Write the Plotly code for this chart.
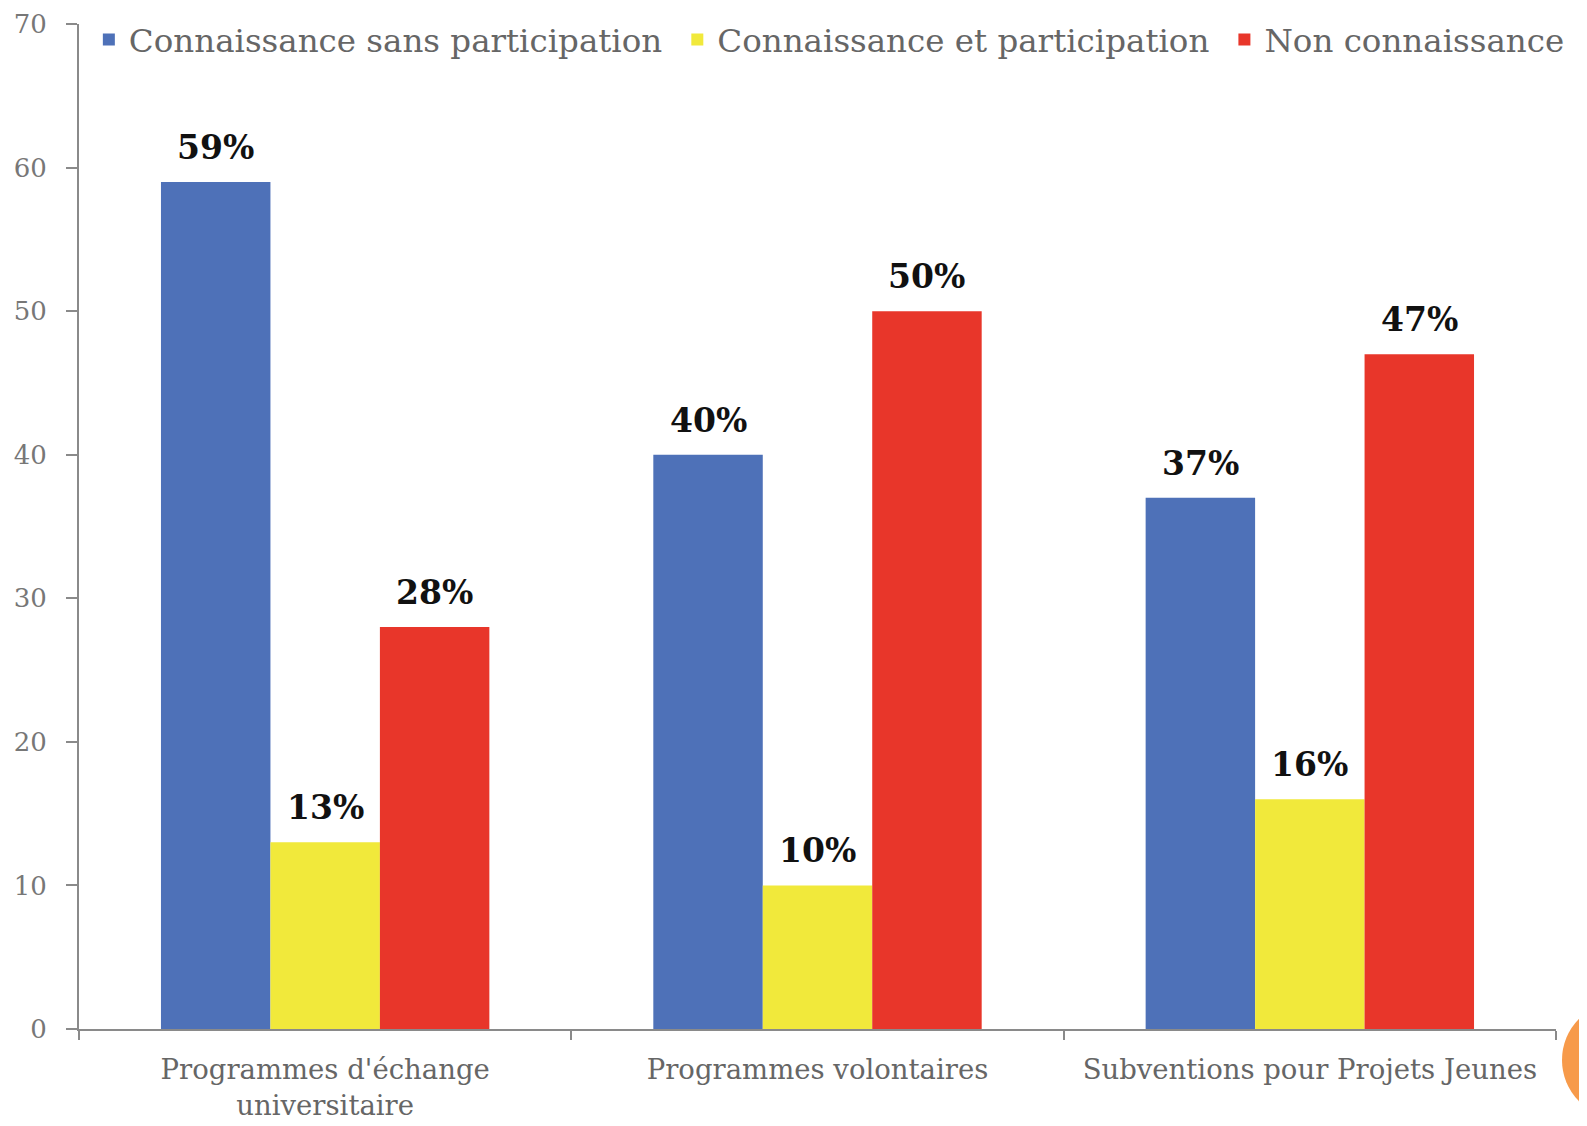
import plotly.graph_objects as go

categories = ["Programmes d'échange<br>universitaire", "Programmes volontaires", "Subventions pour Projets Jeunes"]
series_names = ["Connaissance sans participation", "Connaissance et participation", "Non connaissance"]
sans_participation = [59, 40, 37]
et_participation = [13, 10, 16]
non_connaissance = [28, 50, 47]
colors = ["#4E71B8", "#F1E93B", "#E8362A"]
y_ticks = [0, 10, 20, 30, 40, 50, 60, 70]

series_values = [sans_participation, et_participation, non_connaissance]

FONT = "DejaVu Serif"
# page body has an 8px default margin; size the figure to compensate
W, H = 1579, 1118
ML, MR, MT, MB = 71, 31, 16, 97

fig = go.Figure()
for name, vals, col in zip(series_names, series_values, colors):
    fig.add_trace(go.Bar(
        x=categories, y=vals, name=name,
        marker=dict(color=col, line=dict(width=0)),
    ))

# value labels above bars
plot_w = W - ML - MR
cat_w = plot_w / len(categories)
bargap = 0.333
bar_w = cat_w * (1 - bargap) / 3
for i, vals in enumerate(series_values):
    for c, v in zip(categories, vals):
        fig.add_annotation(
            x=c, y=v, text=f"<b>{v}%</b>", showarrow=False,
            xshift=(i - 1) * bar_w, yshift=13, yanchor="bottom",
            font=dict(family=FONT, size=33, color="#111111"),
        )

# decorative orange circle (slide template)
fig.add_shape(
    type="circle", xref="paper", yref="paper",
    xsizemode="pixel", ysizemode="pixel",
    xanchor=1, yanchor=0,
    x0=6, x1=121, y0=-89, y1=27,
    fillcolor="#F79A4A", line=dict(width=0), layer="above",
)

fig.update_layout(
    width=W, height=H,
    margin=dict(l=ML, r=MR, t=MT, b=MB, autoexpand=False),
    plot_bgcolor="white", paper_bgcolor="white",
    barmode="group", bargap=bargap, bargroupgap=0,
    font=dict(family=FONT, color="#666666"),
    showlegend=True,
    legend=dict(
        orientation="h", x=-0.0001, y=1.012, xanchor="left", yanchor="top",
        font=dict(family=FONT, size=32.5, color="#666666"),
        bgcolor="rgba(0,0,0,0)", itemwidth=30, indentation=10,
    ),
)
fig.update_xaxes(
    showline=True, linecolor="#8a8a8a", linewidth=2,
    ticks="outside", tickson="boundaries", ticklen=9, tickcolor="#8a8a8a", tickwidth=2,
    tickfont=dict(family=FONT, size=27.5, color="#666666"),
    ticklabelstandoff=15, showgrid=False, automargin=False,
)
fig.update_yaxes(
    range=[0, 70], tickvals=y_ticks, showline=True, linecolor="#8a8a8a", linewidth=2,
    ticks="outside", ticklen=11, tickcolor="#8a8a8a", tickwidth=2,
    tickfont=dict(family=FONT, size=26, color="#777777"),
    ticklabelstandoff=14, automargin=False,
    showgrid=False, zeroline=False,
)

fig.write_html("out.html")
